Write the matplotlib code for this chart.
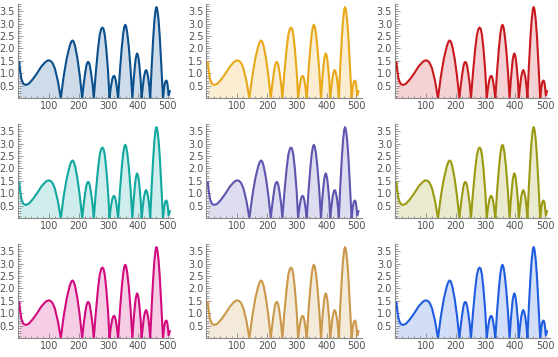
import numpy as np
import matplotlib
matplotlib.use("Agg")
import matplotlib.pyplot as plt
from matplotlib.ticker import MultipleLocator, FixedLocator

# curve (same curve in every panel)
xs = [0, 3, 8, 14, 22, 32, 45, 60, 75, 88, 95, 100, 105, 112, 120, 130, 140,
      150, 160, 170, 175, 179, 183, 188, 196, 204, 212,
      217, 222, 226, 229, 232, 235, 238, 242, 247, 251,
      258, 265, 271, 276, 280, 284, 288, 293, 299, 304,
      308, 313, 316, 319, 322, 325, 329, 333,
      339, 345, 350, 354, 357, 360, 364, 369, 375, 381,
      385, 389, 392, 395, 397, 399, 402, 405, 409, 412,
      416, 420, 424, 427, 430, 434, 438, 441,
      446, 451, 455, 459, 462, 465, 469, 473, 478, 484,
      488, 491, 493, 495, 497, 499, 501, 503, 505, 507]
ys = [1.45, 1.1, 0.75, 0.58, 0.53, 0.58, 0.75, 1.0, 1.28, 1.45, 1.51, 1.52, 1.5, 1.42, 1.2, 0.7, 0.0,
      0.9, 1.6, 2.1, 2.26, 2.32, 2.28, 2.1, 1.6, 0.9, 0.0,
      0.55, 1.0, 1.3, 1.42, 1.46, 1.42, 1.3, 1.0, 0.55, 0.0,
      1.05, 1.95, 2.55, 2.78, 2.84, 2.78, 2.55, 2.0, 1.1, 0.0,
      0.4, 0.75, 0.86, 0.9, 0.86, 0.72, 0.4, 0.0,
      1.1, 2.0, 2.6, 2.88, 2.95, 2.88, 2.6, 2.05, 1.15, 0.0,
      0.7, 1.25, 1.58, 1.75, 1.8, 1.75, 1.58, 1.25, 0.7, 0.0,
      0.45, 0.85, 1.07, 1.13, 1.07, 0.85, 0.45, 0.0,
      1.3, 2.4, 3.1, 3.55, 3.66, 3.55, 3.15, 2.5, 1.4, 0.0,
      0.45, 0.63, 0.69, 0.71, 0.68, 0.58, 0.35, 0.12, 0.2, 0.28]

colors = ["#0b4f8c", "#e8a81a", "#c8191e",
          "#12a8a0", "#5e55b0", "#9a9a12",
          "#d10a7d", "#c9984a", "#1f5ce0"]

fig = plt.figure(figsize=(5.58, 3.57), dpi=100)
W, H = 558.0, 357.0

for i, col in enumerate(colors):
    r, c = divmod(i, 3)
    left = 17.7 + 188.6 * c
    bottom = H - (98.2 + 120 * r)
    ax = fig.add_axes([left / W, bottom / H, 155.4 / W, 94.6 / H])
    ax.fill_between(xs, ys, 0, color=col, alpha=0.2, linewidth=0)
    ax.plot(xs, ys, color=col, lw=1.5, solid_joinstyle="round")
    ax.set_xlim(-5, 518)
    ax.set_ylim(0, 3.8)
    for s in ["top", "right"]:
        ax.spines[s].set_visible(False)
    for s in ["left", "bottom"]:
        ax.spines[s].set_color("#8a8a8a")
        ax.spines[s].set_linewidth(0.8)
    ax.xaxis.set_major_locator(FixedLocator([100, 200, 300, 400, 500]))
    ax.xaxis.set_minor_locator(MultipleLocator(20))
    ax.yaxis.set_major_locator(FixedLocator([0.5, 1.0, 1.5, 2.0, 2.5, 3.0, 3.5]))
    ax.yaxis.set_minor_locator(MultipleLocator(0.1))
    ax.tick_params(which="both", direction="in", color="#8a8a8a", labelsize=7,
                   labelcolor="#505050", width=0.6)
    ax.tick_params(which="major", length=3.5, pad=2)
    ax.tick_params(which="minor", length=1.8)
    ax.set_yticklabels(["0.5", "1.0", "1.5", "2.0", "2.5", "3.0", "3.5"])

fig.savefig("out.png", dpi=100)
